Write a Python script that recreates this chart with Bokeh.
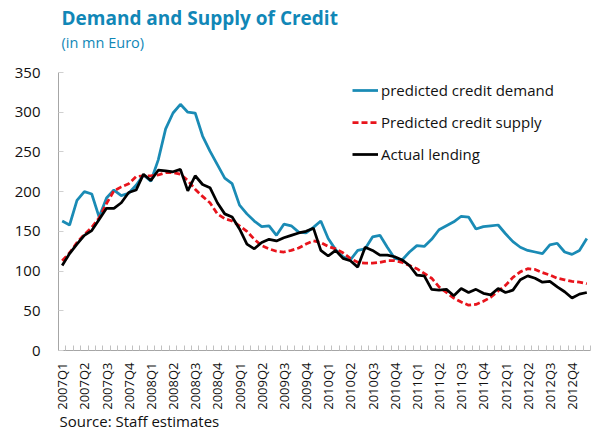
import math
from bokeh.plotting import figure
from bokeh.models import Range1d, FixedTicker, Legend, LegendItem, Title, ColumnDataSource
from bokeh.embed import file_html
from bokeh.resources import INLINE

# monthly observations, Jan 2007 .. Dec 2012
months = list(range(72))

quarter_labels = [
    "2007Q1", "2007Q2", "2007Q3", "2007Q4",
    "2008Q1", "2008Q2", "2008Q3", "2008Q4",
    "2009Q1", "2009Q2", "2009Q3", "2009Q4",
    "2010Q1", "2010Q2", "2010Q3", "2010Q4",
    "2011Q1", "2011Q2", "2011Q3", "2011Q4",
    "2012Q1", "2012Q2", "2012Q3", "2012Q4",
]

credit_demand = [
    163, 158, 189, 200, 197, 168, 192, 202, 195, 198, 208, 221,
    213, 240, 279, 299, 310, 300, 299, 270, 251, 234, 217, 210,
    183, 172, 163, 156, 157, 145, 159, 157, 149, 148, 155, 163,
    141, 127, 118, 114, 126, 128, 143, 145, 130, 116, 114, 124,
    132, 131, 140, 152, 157, 162, 169, 168, 153, 156, 157, 158,
    147, 137, 130, 126, 124, 122, 133, 135, 124, 121, 126, 141,
]

credit_supply = [
    113, 123, 136, 146, 155, 167, 185, 201, 206, 210, 219, 220,
    220, 221, 224, 224, 222, 214, 203, 194, 186, 172, 166, 163,
    157, 150, 140, 132, 128, 125, 124, 126, 129, 134, 138, 136,
    131, 128, 123, 116, 111, 110, 110, 111, 113, 113, 111, 107,
    103, 97, 91, 80, 73, 66, 61, 57, 58, 62, 67, 75,
    82, 92, 99, 103, 102, 98, 95, 91, 89, 87, 86, 84,
]

actual_lending = [
    107, 122, 134, 145, 151, 165, 179, 179, 186, 199, 202, 222,
    214, 227, 226, 225, 228, 201, 220, 209, 205, 186, 172, 168,
    153, 134, 128, 136, 140, 138, 142, 145, 148, 150, 154, 126,
    119, 126, 116, 113, 105, 130, 126, 120, 120, 118, 114, 107,
    95, 94, 77, 76, 77, 69, 78, 73, 77, 72, 70, 78,
    73, 76, 89, 94, 91, 86, 87, 80, 74, 66, 71, 73,
]

y_ticks = [0, 50, 100, 150, 200, 250, 300, 350]

source = ColumnDataSource(dict(x=months, demand=credit_demand,
                               supply=credit_supply, lending=actual_lending))

FONT = "Open Sans"
BLUE = "#1a8bb5"
TITLE_BLUE = "#1187b7"

p = figure(width=591, height=430, title=None,
           x_range=Range1d(-0.5, 71.5), y_range=Range1d(0, 350),
           output_backend="svg", toolbar_location=None,
           min_border_left=58, min_border_right=1,
           min_border_top=72, min_border_bottom=79)
p.outline_line_color = None
p.grid.visible = False

# y axis
p.yaxis.ticker = FixedTicker(ticks=y_ticks)
p.yaxis.major_tick_in = 5
p.yaxis.major_tick_out = 0
p.yaxis.minor_tick_line_color = None
p.yaxis.axis_line_color = "#a6a6a6"
p.yaxis.major_tick_line_color = "#d0d0d0"
p.yaxis.major_label_text_font = FONT
p.yaxis.major_label_text_font_size = "15px"
p.yaxis.major_label_text_color = "#111111"
p.yaxis.major_label_standoff = 18

# x axis
q_pos = [3 * k for k in range(len(quarter_labels))]
p.xaxis.ticker = FixedTicker(ticks=q_pos, minor_ticks=[k - 0.5 for k in range(73)])
p.xaxis.major_label_overrides = {pos: lab for pos, lab in zip(q_pos, quarter_labels)}
p.xaxis.major_label_orientation = math.pi / 2
p.xaxis.major_tick_in = 0
p.xaxis.major_tick_out = 0
p.xaxis.minor_tick_in = 5
p.xaxis.minor_tick_out = 0
p.xaxis.minor_tick_line_color = "#c0c0c0"
p.xaxis.axis_line_color = "#a6a6a6"
p.xaxis.major_label_text_font = FONT
p.xaxis.major_label_text_font_size = "13px"
p.xaxis.major_label_text_color = "#111111"
p.xaxis.major_label_standoff = 12

r1 = p.line("x", "demand", source=source, line_color=BLUE, line_width=2.75)
r2 = p.line("x", "supply", source=source, line_color="#e8141c", line_width=2.75,
            line_dash="6 3")
r3 = p.line("x", "lending", source=source, line_color="#000000", line_width=2.75)

legend = Legend(items=[
    LegendItem(label="predicted credit demand", renderers=[r1]),
    LegendItem(label="Predicted credit supply", renderers=[r2]),
    LegendItem(label="Actual lending", renderers=[r3]),
], location=(294, 186))
legend.border_line_color = None
legend.background_fill_alpha = 0
legend.padding = 0
legend.margin = 0
legend.spacing = 12
legend.glyph_width = 26
legend.glyph_height = 20
legend.label_height = 20
legend.label_standoff = 3
legend.label_text_font = FONT
legend.label_text_font_size = "15px"
legend.label_text_color = "#111111"
p.add_layout(legend)

subtitle = Title(text="(in mn Euro)", align="left", offset=3, standoff=42,
                 text_font=FONT, text_font_size="14.5px",
                 text_font_style="normal", text_color=TITLE_BLUE)
title = Title(text="Demand and Supply of Credit", align="left", offset=3,
              standoff=-42, text_font=FONT, text_font_size="19px",
              text_font_style="bold", text_color=TITLE_BLUE)
p.add_layout(subtitle, "above")
p.add_layout(title, "above")

src = Title(text="Source: Staff estimates", align="left", offset=1, standoff=-4,
            vertical_align="top",
            text_font=FONT, text_font_size="15px", text_font_style="normal",
            text_color="#111111")
p.add_layout(src, "below")

open("out.html", "w").write(file_html(p, INLINE))
